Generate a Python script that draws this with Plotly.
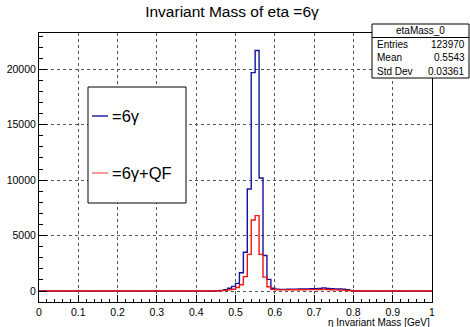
import numpy as np
import plotly.graph_objects as go

# ---------------- data ----------------
n_bins = 100
x_min, x_max = 0.0, 1.0

# eta -> 6 gamma (bins 0.45 ... 0.79 non-zero)
eta_6g_core = [20, 60, 120, 250, 420, 690, 1650, 3500, 9200, 19700,
               21700, 10200, 3200, 1050, 250, 160, 150, 150, 160, 170,
               170, 180, 180, 190, 200, 200, 220, 280, 240, 200,
               190, 180, 160, 120, 60]
# eta -> 6 gamma + QF
eta_6g_qf_core = [10, 30, 60, 100, 160, 320, 560, 1300, 3300, 6400,
                  6800, 3300, 1250, 380, 150, 110, 100, 100, 100, 110,
                  110, 110, 110, 120, 120, 120, 130, 150, 130, 110,
                  100, 90, 80, 60, 20]
first_bin = 45

eta_6g = [0] * first_bin + eta_6g_core + [0] * (n_bins - first_bin - len(eta_6g_core))
eta_6g_qf = [0] * first_bin + eta_6g_qf_core + [0] * (n_bins - first_bin - len(eta_6g_qf_core))

x_ticks = [0, 0.1, 0.2, 0.3, 0.4, 0.5, 0.6, 0.7, 0.8, 0.9, 1]
x_tick_labels = ["0", "0.1", "0.2", "0.3", "0.4", "0.5", "0.6", "0.7", "0.8", "0.9", "1"]
y_ticks = [0, 5000, 10000, 15000, 20000]
y_tick_labels = ["0", "5000", "10000", "15000", "20000"]

stats_name = "etaMass_0"
stats_labels = ["Entries", "Mean", "Std Dev"]
stats_values = ["123970", "0.5543", "0.03361"]

legend_labels = ["=6γ", "=6γ+QF"]
title_text = "Invariant Mass of eta =6γ"
x_title = "η Invariant Mass [GeV]"

# ---------------- figure ----------------
edges = np.linspace(x_min, x_max, n_bins + 1)
FONT = "Liberation Sans, Arial, Helvetica, sans-serif"
BLUE = "#12129a"
RED = "#f01414"

fig = go.Figure()
fig.add_trace(go.Scatter(x=edges, y=eta_6g + [eta_6g[-1]], mode="lines",
                         line=dict(shape="hv", color=BLUE, width=1.4),
                         name=legend_labels[0], showlegend=False))
fig.add_trace(go.Scatter(x=edges, y=eta_6g_qf + [eta_6g_qf[-1]], mode="lines",
                         line=dict(shape="hv", color=RED, width=1.4),
                         name=legend_labels[1], showlegend=False))

# pixel -> paper helpers (plot area 39..432 x, 33..302 y)
L, R, T, B = 39, 432, 33, 302
def px(X):
    return (X - L) / (R - L)
def py(Y):
    return (B - Y) / (B - T)

shapes = []
annotations = []

# stats box
shapes.append(dict(type="rect", xref="paper", yref="paper",
                   x0=px(372), x1=px(469), y0=py(78), y1=py(24),
                   line=dict(color="black", width=1), fillcolor="white", layer="above"))
shapes.append(dict(type="line", xref="paper", yref="paper",
                   x0=px(372), x1=px(469), y0=py(37.5), y1=py(37.5),
                   line=dict(color="black", width=1), layer="above"))
annotations.append(dict(text=stats_name, xref="paper", yref="paper",
                        x=px(420.5), y=py(30.7), xanchor="center", yanchor="middle",
                        showarrow=False, font=dict(size=10, color="black", family=FONT)))
for i, (lab, val) in enumerate(zip(stats_labels, stats_values)):
    yy = py(44.2 + 13.5 * i)
    annotations.append(dict(text=lab, xref="paper", yref="paper", x=px(375), y=yy,
                            xanchor="left", yanchor="middle", showarrow=False,
                            font=dict(size=10, color="black", family=FONT)))
    annotations.append(dict(text=val, xref="paper", yref="paper", x=px(467), y=yy,
                            xanchor="right", yanchor="middle", showarrow=False,
                            font=dict(size=10, color="black", family=FONT)))

# legend box
shapes.append(dict(type="rect", xref="paper", yref="paper",
                   x0=px(88), x1=px(186), y0=py(203), y1=py(87),
                   line=dict(color="black", width=1), fillcolor="white", layer="above"))
for lab, col, yc in zip(legend_labels, [BLUE, "#f07070"], [116, 173]):
    shapes.append(dict(type="line", xref="paper", yref="paper",
                       x0=px(92), x1=px(108), y0=py(yc), y1=py(yc),
                       line=dict(color=col, width=1.4), layer="above"))
    annotations.append(dict(text=lab, xref="paper", yref="paper", x=px(110), y=py(yc),
                            xanchor="left", yanchor="middle", showarrow=False,
                            font=dict(size=16.5, color="black", family=FONT)))

# x axis title
annotations.append(dict(text=x_title, xref="paper", yref="paper", x=1.0, y=py(322),
                        xanchor="right", yanchor="middle", showarrow=False,
                        font=dict(size=10, color="black", family=FONT)))

fig.update_layout(
    width=470, height=327,
    margin=dict(l=L, r=470 - R, t=T, b=327 - B, pad=0, autoexpand=False),
    paper_bgcolor="white", plot_bgcolor="white",
    font=dict(family=FONT, color="black"),
    title=dict(text=title_text, x=232 / 470, y=1 - 12 / 327,
               xanchor="center", yanchor="middle", automargin=False,
               font=dict(size=15.5, color="black", family=FONT)),
    shapes=shapes, annotations=annotations,
    showlegend=False,
    xaxis=dict(range=[x_min, x_max], tickvals=x_ticks, ticktext=x_tick_labels,
               automargin=False,
               showline=True, linecolor="black", linewidth=1, mirror=True,
               ticks="inside", ticklen=7, tickcolor="black", tickwidth=1,
               showgrid=True, gridcolor="#555555", griddash="dot", gridwidth=1,
               zeroline=False,
               minor=dict(ticks="inside", ticklen=3, dtick=0.02, tickcolor="black",
                          showgrid=False),
               tickfont=dict(size=10.5, family=FONT, color="black")),
    yaxis=dict(range=[-992, 23275], tickvals=y_ticks, ticktext=y_tick_labels,
               automargin=False,
               showline=True, linecolor="black", linewidth=1, mirror=True,
               ticks="inside", ticklen=8, tickcolor="black", tickwidth=1,
               showgrid=True, gridcolor="#555555", griddash="dot", gridwidth=1,
               zeroline=False,
               minor=dict(ticks="inside", ticklen=4, dtick=1000, tickcolor="black",
                          showgrid=False),
               tickfont=dict(size=10.5, family=FONT, color="black")),
)

fig.write_html("out.html", config={"displayModeBar": False},
               post_script="document.body.style.margin='0';document.body.style.overflow='hidden';")
